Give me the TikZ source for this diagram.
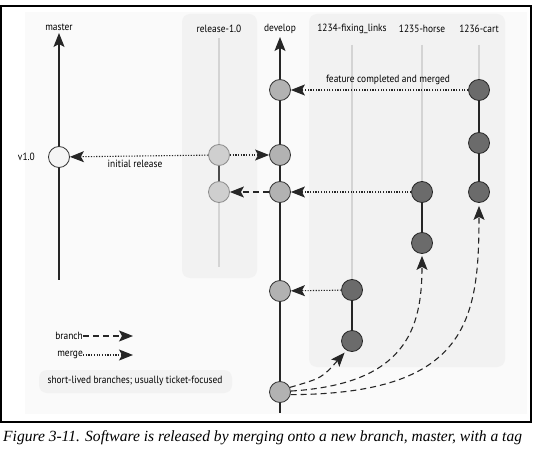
\documentclass[tikz,border=0pt]{standalone}
\usepackage{fontspec}
\setmainfont{PT Sans}[FakeStretch=0.9]
\newfontfamily\capfont{Liberation Serif}
\usetikzlibrary{arrows.meta}
\begin{document}
\begin{tikzpicture}[x=1bp,y=-1bp,
  lbl/.style={font=\fontsize{10.5}{12}\selectfont, text=black, inner sep=0pt},
  cmt/.style={circle, line width=0.8, minimum size=21bp, inner sep=0pt},
  devc/.style={cmt, draw=black!80, fill=black!30},
  relc/.style={cmt, draw=black!45, fill=black!19},
  featc/.style={cmt, draw=black!85, fill=black!58},
  tagc/.style={cmt, draw=black!80, fill=black!4},
  tip/.style={-{Stealth[length=14bp,width=11bp,inset=3bp]}},
  mergeln/.style={tip, black!85, line width=1.1, dash pattern=on 1.2bp off 1.5bp},
  branchln/.style={tip, black!85, line width=1.1, dash pattern=on 6bp off 4bp},
  spine/.style={black!85, line width=1.1},
  faint/.style={black!17, line width=1.4},
  panel/.style={fill=black!5, rounded corners=8bp}
]
\useasboundingbox (0,0) rectangle (537,449);
\fill[white] (0,0) rectangle (537,449);
\fill[black!2] (25,12) rectangle (527,414);
\draw[line width=1.1] (1,6) rectangle (531,422);
% panels
\fill[panel] (182,14) rectangle (257,278);
\fill[panel] (309,14) rectangle (505,367);
\fill[panel] (39,370) rectangle (232,393);
% labels
\node[lbl] (lmaster) at (59,27) {master};
\node[lbl] (lrel) at (219,29) {release-1.0};
\node[lbl] (ldev) at (280,29) {develop};
\node[lbl] (lfix) at (352,29) {1234-fixing\_links};
\node[lbl] (lhorse) at (422,29) {1235-horse};
\node[lbl] (lcart) at (479,29) {1236-cart};
% coordinates
\coordinate (mtop) at (59,33);
\coordinate (mbot) at (59,280);
\coordinate (rtop) at (219,38);
\coordinate (rbot) at (219,267);
\coordinate (dtop) at (280,37);
\coordinate (dbot) at (280,413);
\coordinate (ftop) at (352,45);
\coordinate (htop) at (422,45);
\coordinate (ctop) at (479,45);
% commits
\node[tagc] (v1) at (59,157) {};
\node[relc] (r1) at (219,155) {};
\node[relc] (r2) at (219,192) {};
\node[devc] (d1) at (280,90) {};
\node[devc] (d2) at (280,155) {};
\node[devc] (d3) at (280,192) {};
\node[devc] (d4) at (280,291) {};
\node[devc] (d5) at (280,392) {};
\node[featc] (fx1) at (352,290) {};
\node[featc] (fx2) at (352,341) {};
\node[featc] (hx1) at (422,192) {};
\node[featc] (hx2) at (422,243) {};
\node[featc] (cx1) at (479,90) {};
\node[featc] (cx2) at (479,143) {};
\node[featc] (cx3) at (479,192) {};
% spines
\draw[spine, tip] (v1) -- (mtop);
\draw[spine] (v1) -- (mbot);
\draw[faint] (rtop) -- (r1);
\draw[faint] (r2) -- (rbot);
\draw[spine, black!70] (r1) -- (r2);
\draw[spine, tip] (d1) -- (dtop);
\draw[spine] (d1) -- (d2);
\draw[spine] (d2) -- (d3);
\draw[spine] (d3) -- (d4);
\draw[spine] (d4) -- (d5);
\draw[spine] (d5) -- (dbot);
\draw[faint] (ftop) -- (fx1);
\draw[spine] (fx1) -- (fx2);
\draw[faint] (htop) -- (hx1);
\draw[spine] (hx1) -- (hx2);
\draw[faint] (ctop) -- (cx1);
\draw[spine] (cx1) -- (cx2);
\draw[spine] (cx2) -- (cx3);
% merges
\draw[mergeln] (cx1) -- (d1);
\draw[mergeln] (r1) -- (v1);
\draw[mergeln] (r1) -- (d2);
\draw[branchln] (d3) -- (r2);
\draw[mergeln] (hx1) -- (d3);
\draw[mergeln] (fx1) -- (d4);
% branches
\draw[branchln, shorten >=3bp] (d5.25) .. controls (322,378) .. (fx2.240);
\draw[branchln, shorten >=2bp] (d5.5) .. controls (405,384) and (422,330) .. (hx2.south);
\draw[branchln, shorten >=3bp] (d5.-14) .. controls (468,394) and (479,320) .. (cx3.south);
% text labels
\node[lbl, anchor=east] (lv1) at (35,157) {v1.0};
\node[lbl] (linit) at (135,164) {initial release};
\node[lbl] (lfeat) at (388,80) {feature completed and merged};
\node[lbl, anchor=east] (lbranch) at (83,336) {branch};
\node[lbl, anchor=east] (lmerge) at (83,355) {merge};
\coordinate (bend) at (133,336);
\coordinate (mend) at (133,355);
\draw[branchln] (lbranch.east) -- (bend);
\draw[mergeln] (lmerge.east) -- (mend);
\node[lbl] (lshort) at (135,381) {short-lived branches; usually ticket-focused};
% caption
\node[anchor=base west, inner sep=0pt, font=\capfont\itshape\fontsize{15.6}{17}\selectfont] (cap) at (3,441) {Figure 3-11. Software is released by merging onto a new branch, master, with a tag};
\end{tikzpicture}
\end{document}
